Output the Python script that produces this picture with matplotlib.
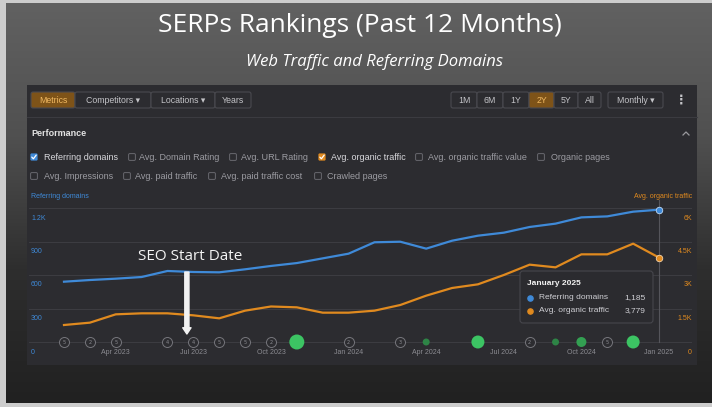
import matplotlib
matplotlib.use("Agg")
import matplotlib.pyplot as plt
import numpy as np
import matplotlib.colors as mcolors
from matplotlib.patches import Rectangle, FancyBboxPatch

# ---------------- data ----------------
months = ["Feb 2023", "Mar 2023", "Apr 2023", "May 2023", "Jun 2023", "Jul 2023",
          "Aug 2023", "Sep 2023", "Oct 2023", "Nov 2023", "Dec 2023", "Jan 2024",
          "Feb 2024", "Mar 2024", "Apr 2024", "May 2024", "Jun 2024", "Jul 2024",
          "Aug 2024", "Sep 2024", "Oct 2024", "Nov 2024", "Dec 2024", "Jan 2025"]
referring_domains = [540, 555, 567, 582, 636, 627, 624, 651, 681, 707, 749, 791,
                     893, 898, 836, 907, 952, 979, 1030, 1060, 1116, 1125, 1167, 1185]
organic_traffic = [761, 866, 1239, 1284, 1284, 1194, 1060, 1403, 1590, 1552, 1313, 1313,
                   1403, 1657, 2075, 2418, 2582, 3000, 3463, 3343, 3925, 3925, 4403, 3779]
quarter_labels = ["Apr 2023", "Jul 2023", "Oct 2023", "Jan 2024",
                  "Apr 2024", "Jul 2024", "Oct 2024", "Jan 2025"]
left_ticks = [0, 300, 600, 900, 1200]
left_tick_labels = ["0", "300", "600", "900", "1.2K"]
right_ticks = [0, 1500, 3000, 4500, 6000]
right_tick_labels = ["0", "1.5K", "3K", "4.5K", "6K"]
gray_event_months = ["Feb 2023", "Mar 2023", "Apr 2023", "Jun 2023", "Jul 2023", "Aug 2023",
                     "Sep 2023", "Oct 2023", "Jan 2024", "Mar 2024", "Aug 2024", "Nov 2024"]
gray_event_counts = ["5", "2", "5", "4", "4", "5", "5", "2", "2", "3", "2", "5"]
green_event_months = ["Nov 2023", "Apr 2024", "Jun 2024", "Sep 2024", "Oct 2024", "Dec 2024"]
green_event_weights = [7.5, 3.5, 6.5, 3.5, 5.0, 6.5]
seo_start_month = 4.75   # between Jun and Jul 2023

title = "SERPs Rankings (Past 12 Months)"
subtitle = "Web Traffic and Referring Domains"

BLUE = "#3f8ad8"
ORANGE = "#e08a1f"
UI = ["Liberation Sans", "DejaVu Sans"]
DISPLAY = ["Open Sans", "DejaVu Sans"]

W, H = 712, 407
fig = plt.figure(figsize=(W / 100, H / 100), dpi=100)
fig.patch.set_facecolor("#cdcdcd")

# ---------------- background (pixel coords) ----------------
bg = fig.add_axes([0, 0, 1, 1])
bg.axis("off")
grad = np.linspace(0, 1, 256)[:, None]
cmap = mcolors.LinearSegmentedColormap.from_list(
    "g", ["#616161", "#505050", "#2e2e2e", "#212121"])
bg.imshow(grad, extent=[6, W, 403, 3], cmap=cmap, aspect="auto",
          interpolation="bilinear")
bg.set_xlim(0, W)
bg.set_ylim(H, 0)

# panel
bg.add_patch(Rectangle((27, 85), 670, 280, fc="#2c2c30", ec="none"))
bg.plot([27, 697], [117, 117], color="#3b3b40", lw=0.8)

bg.text(360, 26, title, fontsize=19, color="white", family=DISPLAY,
        ha="center", va="center")
bg.text(375, 62.5, subtitle, fontsize=12, color="white", family=DISPLAY,
        style="italic", ha="center", va="center")


def button(x0, x1, label, active=False):
    fc = "#7e5318" if active else "#2c2c30"
    tc = "#f0b860" if active else "#c4c4c8"
    bg.add_patch(FancyBboxPatch((x0, 92), x1 - x0, 16,
                                boxstyle="round,pad=0,rounding_size=2",
                                fc=fc, ec="#4a4a50", lw=0.8))
    bg.text((x0 + x1) / 2, 100.5, label, fontsize=6.3, color=tc, family=UI,
            ha="center", va="center")


button(31, 75, "Metrics", True)
button(75, 151, "Competitors ▾")
button(151, 215, "Locations ▾")
button(215, 251, "Years")
for (a, b, lab) in [(451, 477, "1M"), (477, 503, "6M"), (503, 529, "1Y"),
                    (529, 554, "2Y"), (554, 578, "5Y"), (578, 601, "All")]:
    button(a, b, lab, lab == "2Y")
button(608, 663, "Monthly ▾")
bg.text(681, 100.5, "⋮", fontsize=9, color="#c4c4c8", family=["DejaVu Sans"],
        ha="center", va="center", fontweight="bold")

bg.text(31, 133, "Performance", fontsize=6.5, color="#e2e2e2", family=UI,
        fontweight="bold", ha="left", va="center")
bg.plot([683, 686, 689], [135, 132, 135], color="#9a9a9e", lw=0.9)


def checkbox(cx, tx, y, label, color=None):
    if color:
        bg.add_patch(FancyBboxPatch((cx - 3.6, y - 3.6), 7.2, 7.2,
                                    boxstyle="round,pad=0,rounding_size=1.2",
                                    fc=color, ec="none"))
        bg.plot([cx - 2.2, cx - 0.6, cx + 2.2], [y + 0.1, y + 1.8, y - 1.9],
                color="white", lw=0.9, solid_capstyle="round")
        tc = "#d8d8dc"
    else:
        bg.add_patch(FancyBboxPatch((cx - 3.4, y - 3.4), 6.8, 6.8,
                                    boxstyle="round,pad=0,rounding_size=1.2",
                                    fc="none", ec="#68686e", lw=0.7))
        tc = "#9c9ca2"
    bg.text(tx, y + 0.3, label, fontsize=6.5, color=tc, family=UI,
            ha="left", va="center")


row1 = [("Referring domains", 34, 44, BLUE), ("Avg. Domain Rating", 132, 139, None),
        ("Avg. URL Rating", 233, 241, None), ("Avg. organic traffic", 322, 331, ORANGE),
        ("Avg. organic traffic value", 419, 428, None), ("Organic pages", 541, 551, None)]
row2 = [("Avg. Impressions", 34, 44, None), ("Avg. paid traffic", 127, 135, None),
        ("Avg. paid traffic cost", 212, 221, None), ("Crawled pages", 318, 327, None)]
for lab, cx, tx, c in row1:
    checkbox(cx, tx, 157, lab, c)
for lab, cx, tx, c in row2:
    checkbox(cx, tx, 176, lab, c)

bg.text(31, 196, "Referring domains", fontsize=5, color=BLUE, family=UI,
        ha="left", va="center")
bg.text(692, 196, "Avg. organic traffic", fontsize=5, color=ORANGE, family=UI,
        ha="right", va="center")

# ---------------- chart axes ----------------
L, R, T, B = 29, 692, 200, 360
X0, DX = 64.0, 25.87
Y0, SY = 342.0, 134.0 / 1200.0
ax = fig.add_axes([L / W, 1 - B / H, (R - L) / W, (B - T) / H])
ax.set_facecolor("none")
xlim = ((L - X0) / DX, (R - X0) / DX)
ylim = ((Y0 - B) / SY, (Y0 - T) / SY)
ax.set_xlim(*xlim)
ax.set_ylim(*ylim)
ax.axis("off")
for v in left_ticks:
    ax.axhline(v, color="#3c3c41", lw=0.8, zorder=0.5)

idx = np.arange(len(months))
label_off = 10 / SY
for v, lab in zip(left_ticks, left_tick_labels):
    ax.text(xlim[0] + 2 / DX, v - label_off, lab, fontsize=5, color=BLUE,
            family=UI, ha="left", va="center")
for q in quarter_labels:
    ax.text(months.index(q), -label_off, q, fontsize=5, color="#8c8c92",
            family=UI, ha="center", va="center")

# crosshair at last month
ax.plot([idx[-1], idx[-1]], [0, ylim[1]], color="#55555b", lw=0.8, zorder=1)

ax.plot(idx, referring_domains, color=BLUE, lw=1.6, zorder=3,
        solid_joinstyle="round")
ax.scatter([idx[-1]], [referring_domains[-1]], s=22, color=BLUE,
           edgecolor="#bcd8f5", lw=0.6, zorder=6)

# events on the baseline
gi = [months.index(m) for m in gray_event_months]
ax.scatter(gi, [0] * len(gi), s=(10 * 0.72) ** 2, facecolor="#2c2c30",
           edgecolor="#76767c", lw=0.7, zorder=4)
for i, c in zip(gi, gray_event_counts):
    ax.text(i, 0, c, fontsize=3.6, color="#8c8c92", ha="center", va="center",
            zorder=5)
gr = [months.index(m) for m in green_event_months]
gcol = ["#3cc463" if r >= 6 else ("#33a052" if r >= 5 else "#2e8446")
        for r in green_event_weights]
ax.scatter(gr, [0] * len(gr), s=[(2 * r * 0.72) ** 2 for r in green_event_weights],
           color=gcol, edgecolor="none", zorder=4)

ax2 = ax.twinx()
ax2.set_ylim(ylim[0] * 5, ylim[1] * 5)
ax2.axis("off")
ax2.plot(idx, organic_traffic, color=ORANGE, lw=1.6, zorder=3,
         solid_joinstyle="round")
ax2.scatter([idx[-1]], [organic_traffic[-1]], s=22, color=ORANGE,
            edgecolor="#f5d3a8", lw=0.6, zorder=6)
for v, lab in zip(right_ticks, right_tick_labels):
    ax2.text(xlim[1], v - label_off * 5, lab, fontsize=5, color=ORANGE,
             family=UI, ha="right", va="center")

# SEO start arrow
ax2.annotate("", xy=(seo_start_month, (Y0 - 334) / SY * 5),
             xytext=(seo_start_month, (Y0 - 272) / SY * 5),
             arrowprops=dict(arrowstyle="simple,head_length=0.45,head_width=0.6,tail_width=0.3",
                             color="#f2f2f2", mutation_scale=10, shrinkA=0, shrinkB=0),
             zorder=7)

# ---------------- overlay ----------------
ov = fig.add_axes([0, 0, 1, 1])
ov.set_facecolor("none")
ov.axis("off")
ov.set_xlim(0, W)
ov.set_ylim(H, 0)

ov.text(190, 256, "SEO Start Date", fontsize=11, color="#f4f4f4", family=DISPLAY,
        ha="center", va="center")

ov.add_patch(FancyBboxPatch((520, 271), 133, 52,
                            boxstyle="round,pad=0,rounding_size=3",
                            fc="#2b2b2f", ec="#46464c", lw=0.8))
ov.text(527, 283.5, "January 2025", fontsize=6, color="#f2f2f2", family=UI,
        fontweight="bold", ha="left", va="center")
ov.scatter([530], [297.5], s=14, color=BLUE)
ov.scatter([530], [311], s=14, color=ORANGE)
ov.text(539, 297.5, "Referring domains", fontsize=6, color="#cfcfd4", family=UI,
        ha="left", va="center")
ov.text(539, 311, "Avg. organic traffic", fontsize=6, color="#cfcfd4", family=UI,
        ha="left", va="center")
ov.text(646, 297.5, f"{referring_domains[-1]:,}", fontsize=6, color="#cfcfd4",
        family=UI, ha="right", va="center")
ov.text(646, 311, f"{organic_traffic[-1]:,}", fontsize=6, color="#cfcfd4",
        family=UI, ha="right", va="center")

fig.savefig("out.png", dpi=100, facecolor=fig.get_facecolor())
